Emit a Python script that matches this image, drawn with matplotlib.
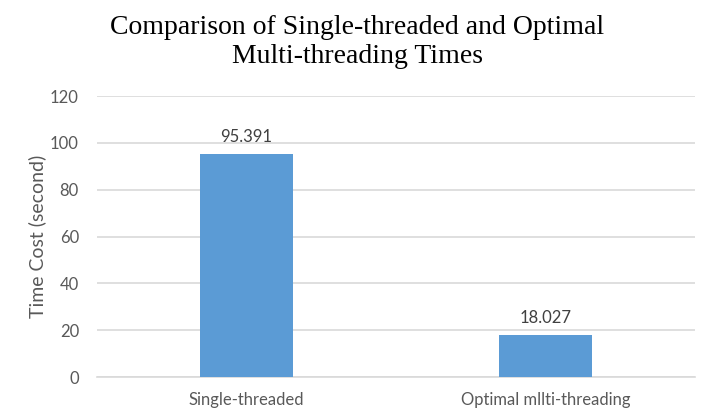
import matplotlib
matplotlib.use("Agg")
import matplotlib.pyplot as plt

categories = ["Single-threaded", "Optimal mllti-threading"]
values = [95.391, 18.027]
value_labels = ["95.391", "18.027"]
yticks = [0, 20, 40, 60, 80, 100, 120]

W, H = 714, 420
fig = plt.figure(figsize=(W / 100, H / 100), dpi=100)
ax = fig.add_axes([97 / W, 1 - 377 / H, 598 / W, 281 / H])

x = list(range(len(categories)))
ax.bar(x, values, width=0.314, color="#5B9BD5", zorder=3)
ax.set_xlim(-0.5, len(categories) - 0.5)
ax.set_ylim(0, 120)
ax.set_yticks(yticks)
ax.set_yticklabels([str(t) for t in yticks])
ax.set_xticks(x)
ax.set_xticklabels(categories)

font = "Lato"
for lab in ax.get_xticklabels() + ax.get_yticklabels():
    lab.set_fontfamily(font)
    lab.set_fontsize(12)
    lab.set_color("#595959")
ax.tick_params(axis="both", length=0)
ax.tick_params(axis="x", pad=11)
ax.tick_params(axis="y", pad=13)

ax.grid(axis="y", color="#D9D9D9", linewidth=1.2, zorder=0)
for s in ["top", "right", "left"]:
    ax.spines[s].set_visible(False)
ax.spines["bottom"].set_color("#D9D9D9")
ax.spines["bottom"].set_linewidth(1.2)

for xi, v, lab in zip(x, values, value_labels):
    ax.annotate(lab, (xi, v), xytext=(0, 6), textcoords="offset points",
                ha="center", va="bottom", fontfamily=font, fontsize=12,
                color="#404040")

ax.set_ylabel("Time Cost (second)", fontfamily=font, fontsize=14,
              color="#595959", labelpad=3)

fig.text(357 / W, 1 - 42 / H,
         "Comparison of Single-threaded and Optimal\nMulti-threading Times",
         ha="center", va="center", fontfamily="Liberation Serif",
         fontsize=20, color="black", linespacing=1.2)

fig.savefig("out.png", dpi=100)
